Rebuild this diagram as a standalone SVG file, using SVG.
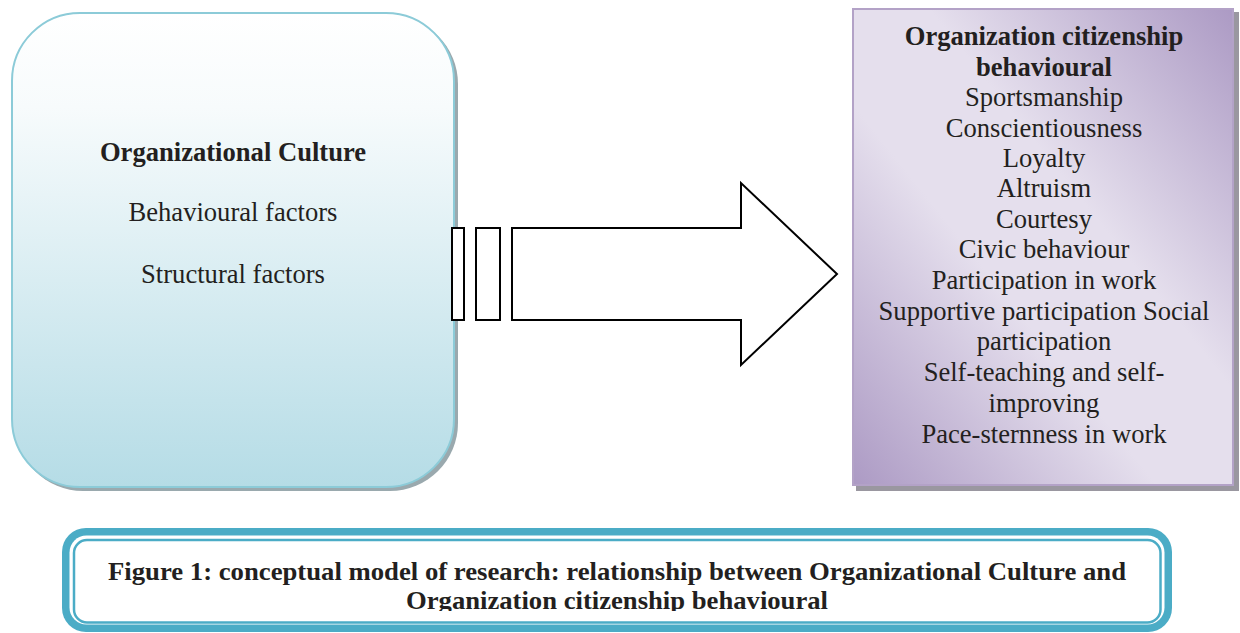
<svg xmlns="http://www.w3.org/2000/svg" width="1240" height="633" viewBox="0 0 1240 633">
<defs>
<linearGradient id="gBlue" x1="0" y1="0" x2="0" y2="1">
<stop offset="0" stop-color="#ffffff"/>
<stop offset="0.2" stop-color="#f7fbfc"/>
<stop offset="1" stop-color="#b5dce6"/>
</linearGradient>
<linearGradient id="gPurple" x1="1" y1="0" x2="0" y2="1">
<stop offset="0" stop-color="#ac9ac4"/>
<stop offset="0.4" stop-color="#e5dfed"/>
<stop offset="0.6" stop-color="#e5dfed"/>
<stop offset="1" stop-color="#ac9ac4"/>
</linearGradient>
<clipPath id="capClip"><rect x="62" y="528" width="1110" height="83"/></clipPath>
<style>
.t{font-family:"Liberation Serif","Times New Roman",serif;fill:#231f20;text-anchor:middle}
.b{font-weight:bold}
.m{font-size:26.6px}
.arrow{fill:#ffffff;stroke:#000000;stroke-width:2;stroke-linejoin:miter}
</style>
</defs>
<g id="organizational-culture">
<rect x="15" y="16" width="443" height="475" rx="68" ry="68" fill="#9aa9ae"/>
<rect x="12" y="13" width="442" height="474" rx="68" ry="68" fill="url(#gBlue)" stroke="#8ccbd8" stroke-width="2"/>
<text class="t b m" x="233" y="161">Organizational Culture</text>
<text class="t m" x="233" y="221">Behavioural factors</text>
<text class="t m" x="233" y="283">Structural factors</text>
</g>
<g id="connectors">
<rect class="arrow" x="452" y="228" width="12" height="92"/>
<rect class="arrow" x="476" y="228" width="24" height="92"/>
<path class="arrow" d="M512,228 L741,228 L741,183 L837,274 L741,365 L741,320 L512,320 Z"/>
</g>
<g id="organization-citizenship">
<rect x="856" y="12" width="383" height="479" fill="#9a97a0"/>
<rect x="853" y="9" width="380" height="476" fill="url(#gPurple)" stroke="#b3a2c7" stroke-width="2"/>
<text class="t b m" x="1044" y="45">Organization citizenship</text>
<text class="t b m" x="1044" y="76">behavioural</text>
<text class="t m" x="1044" y="106">Sportsmanship</text>
<text class="t m" x="1044" y="137">Conscientiousness</text>
<text class="t m" x="1044" y="167">Loyalty</text>
<text class="t m" x="1044" y="197">Altruism</text>
<text class="t m" x="1044" y="228">Courtesy</text>
<text class="t m" x="1044" y="258">Civic behaviour</text>
<text class="t m" x="1044" y="289">Participation in work</text>
<text class="t m" x="1044" y="320">Supportive participation Social</text>
<text class="t m" x="1044" y="350">participation</text>
<text class="t m" x="1044" y="381">Self-teaching and self-</text>
<text class="t m" x="1044" y="412">improving</text>
<text class="t m" x="1044" y="443">Pace-sternness in work</text>
</g>
<g id="caption">
<rect x="62" y="528" width="1110" height="104" rx="24" ry="24" fill="#4bacc6"/>
<rect x="69.5" y="535.5" width="1095" height="89" rx="17" ry="17" fill="#ffffff"/>
<rect x="74" y="540" width="1086.5" height="82.5" rx="13" ry="13" fill="#ffffff" stroke="#4bacc6" stroke-width="2.5"/>
<g clip-path="url(#capClip)">
<text class="t b" x="617" y="580" font-size="25" textLength="1018" lengthAdjust="spacingAndGlyphs">Figure 1: conceptual model of research: relationship between Organizational Culture and</text>
<text class="t b" x="617" y="609" font-size="25" textLength="422" lengthAdjust="spacingAndGlyphs">Organization citizenship behavioural</text>
</g>
</g>
</svg>
